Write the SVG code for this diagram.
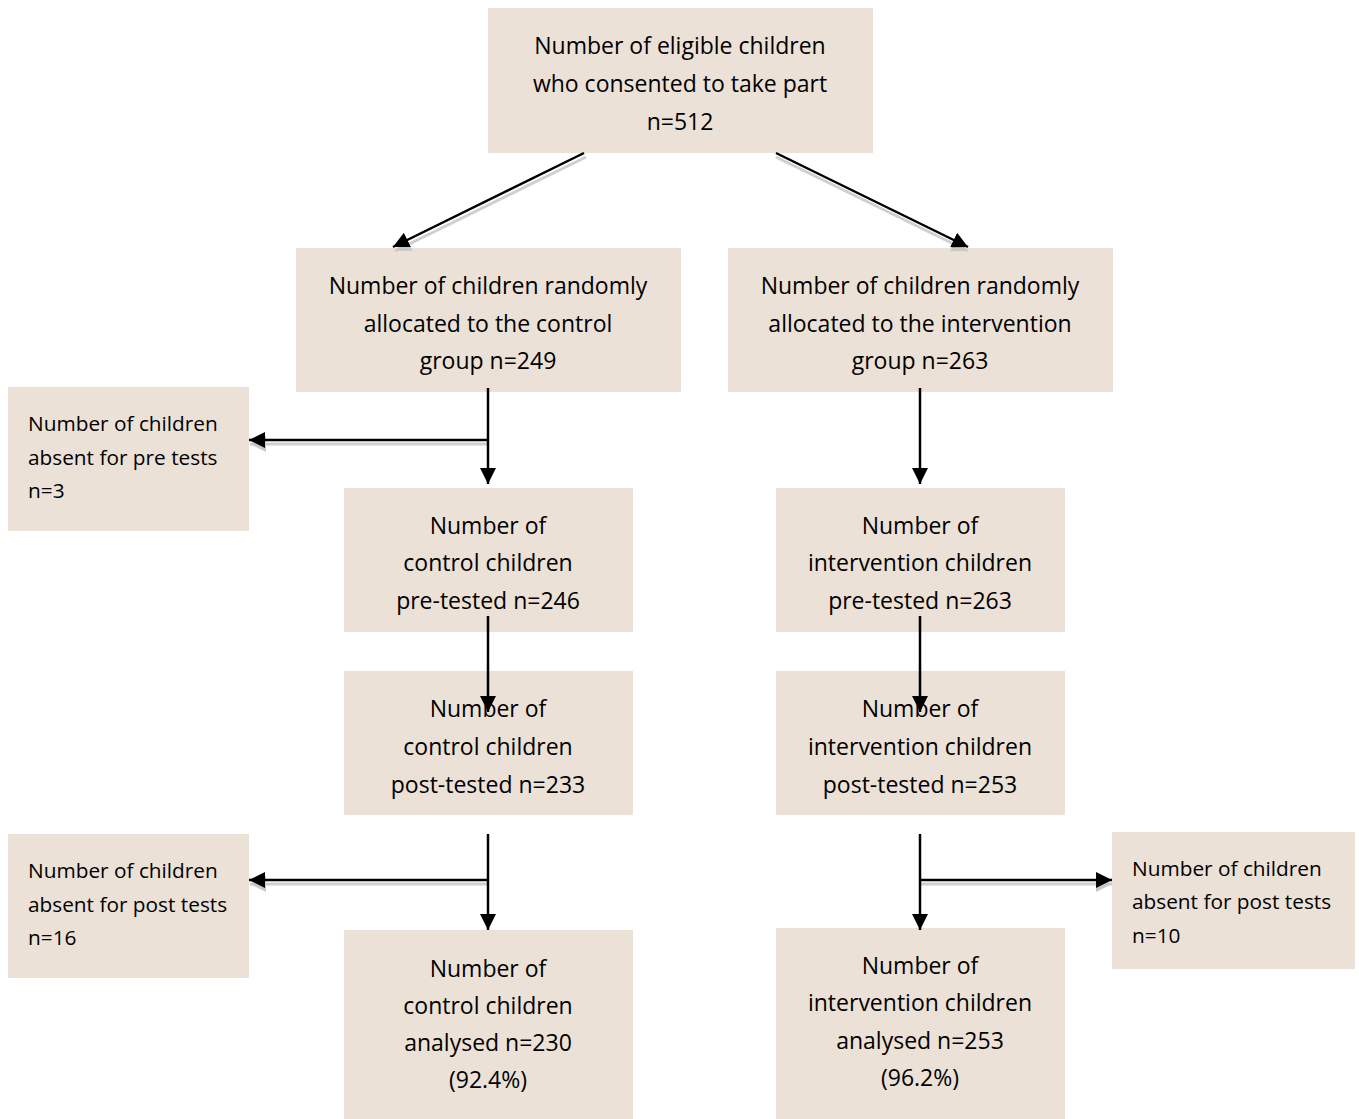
<svg xmlns="http://www.w3.org/2000/svg" width="1359" height="1119" viewBox="0 0 1359 1119">
<defs>
<marker id="ah" markerWidth="16" markerHeight="16" viewBox="0 0 16 16" refX="16" refY="8" orient="auto" markerUnits="userSpaceOnUse">
<path d="M0,0 L16,8 L0,16 Z" fill="#000"/>
</marker>
<marker id="ahs" markerWidth="16" markerHeight="16" viewBox="0 0 16 16" refX="16" refY="8" orient="auto" markerUnits="userSpaceOnUse">
<path d="M0,0 L16,8 L0,16 Z" fill="#c8c8c8"/>
</marker>
</defs>
<style>
.box{fill:#ece1d6}
.t{font-family:"Open Sans","Liberation Sans",sans-serif;font-size:23px;fill:#000;text-anchor:middle;dominant-baseline:central}
.s{font-family:"Open Sans","Liberation Sans",sans-serif;font-size:20.8px;fill:#000;dominant-baseline:central}
.ln{stroke:#000;stroke-width:2.5;fill:none;marker-end:url(#ah)}
.sh{stroke:#cfcfcf;stroke-width:3;fill:none;marker-end:url(#ahs)}
</style>
<rect width="1359" height="1119" fill="#fff"/>
<g id="n_total"><rect class="box" x="488" y="8" width="385" height="145"/>
<text class="t" x="680" y="45">Number of eligible children</text>
<text class="t" x="680" y="83">who consented to take part</text>
<text class="t" x="680" y="121">n=512</text></g>
<g id="n_control"><rect class="box" x="296" y="248" width="385" height="144"/>
<text class="t" x="488" y="285">Number of children randomly</text>
<text class="t" x="488" y="323">allocated to the control</text>
<text class="t" x="488" y="360">group n=249</text></g>
<g id="n_interv"><rect class="box" x="728" y="248" width="385" height="144"/>
<text class="t" x="920" y="285">Number of children randomly</text>
<text class="t" x="920" y="323">allocated to the intervention</text>
<text class="t" x="920" y="360">group n=263</text></g>
<g id="n_absent_pre"><rect class="box" x="8" y="387" width="241" height="144"/>
<text class="s" x="28" y="423">Number of children</text>
<text class="s" x="28" y="457">absent for pre tests</text>
<text class="s" x="28" y="490">n=3</text></g>
<g id="n_control_pre"><rect class="box" x="344" y="488" width="289" height="144"/>
<text class="t" x="488" y="525">Number of</text>
<text class="t" x="488" y="562">control children</text>
<text class="t" x="488" y="600">pre-tested n=246</text></g>
<g id="n_interv_pre"><rect class="box" x="776" y="488" width="289" height="144"/>
<text class="t" x="920" y="525">Number of</text>
<text class="t" x="920" y="562">intervention children</text>
<text class="t" x="920" y="600">pre-tested n=263</text></g>
<g id="n_control_post"><rect class="box" x="344" y="671" width="289" height="144"/>
<text class="t" x="488" y="708">Number of</text>
<text class="t" x="488" y="746">control children</text>
<text class="t" x="488" y="784">post-tested n=233</text></g>
<g id="n_interv_post"><rect class="box" x="776" y="671" width="289" height="144"/>
<text class="t" x="920" y="708">Number of</text>
<text class="t" x="920" y="746">intervention children</text>
<text class="t" x="920" y="784">post-tested n=253</text></g>
<g id="n_absent_post_c"><rect class="box" x="8" y="834" width="241" height="144"/>
<text class="s" x="28" y="870">Number of children</text>
<text class="s" x="28" y="904">absent for post tests</text>
<text class="s" x="28" y="937">n=16</text></g>
<g id="n_control_an"><rect class="box" x="344" y="930" width="289" height="189"/>
<text class="t" x="488" y="968">Number of</text>
<text class="t" x="488" y="1005">control children</text>
<text class="t" x="488" y="1042">analysed n=230</text>
<text class="t" x="488" y="1079">(92.4%)</text></g>
<g id="n_interv_an"><rect class="box" x="776" y="928" width="289" height="191"/>
<text class="t" x="920" y="965">Number of</text>
<text class="t" x="920" y="1002">intervention children</text>
<text class="t" x="920" y="1040">analysed n=253</text>
<text class="t" x="920" y="1077">(96.2%)</text></g>
<g id="n_absent_post_i"><rect class="box" x="1112" y="832" width="243" height="137"/>
<text class="s" x="1132" y="868">Number of children</text>
<text class="s" x="1132" y="901">absent for post tests</text>
<text class="s" x="1132" y="935">n=10</text></g>
<g id="connectors">
<line class="sh" x1="586" y1="157" x2="395" y2="251"/>
<line class="sh" x1="776" y1="157" x2="968" y2="251"/>
<line class="sh" x1="488" y1="444" x2="250" y2="444"/>
<line class="sh" x1="488" y1="884" x2="250" y2="884"/>
<line class="sh" x1="920" y1="884" x2="1112" y2="884"/>
<line class="ln" x1="584" y1="153" x2="393" y2="247"/>
<line class="ln" x1="776" y1="153" x2="968" y2="247"/>
<line class="ln" x1="488" y1="388" x2="488" y2="484"/>
<line class="ln" x1="488" y1="440" x2="249" y2="440"/>
<line class="ln" x1="920" y1="388" x2="920" y2="484"/>
<line class="ln" x1="488" y1="616" x2="488" y2="712"/>
<line class="ln" x1="920" y1="616" x2="920" y2="712"/>
<line class="ln" x1="488" y1="834" x2="488" y2="930"/>
<line class="ln" x1="488" y1="880" x2="249" y2="880"/>
<line class="ln" x1="920" y1="834" x2="920" y2="930"/>
<line class="ln" x1="920" y1="880" x2="1112" y2="880"/>
</g>
</svg>
